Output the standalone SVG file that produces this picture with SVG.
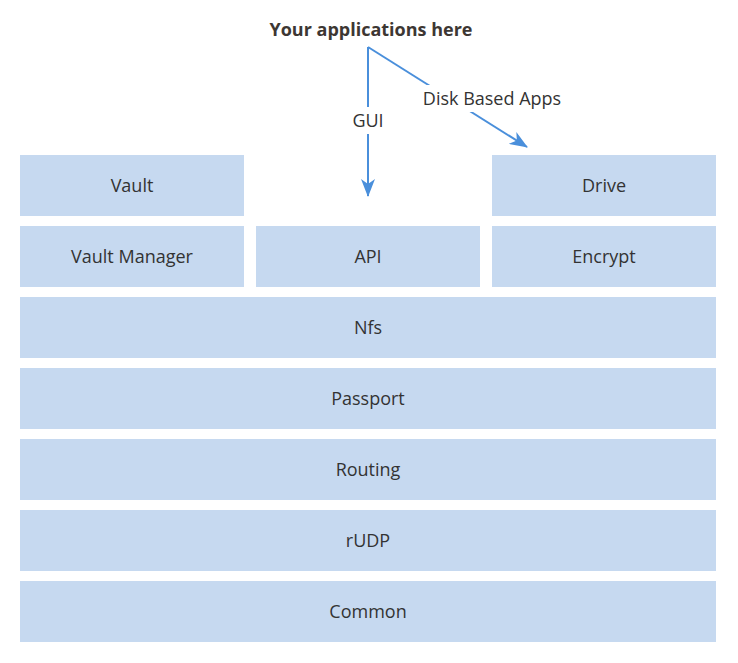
<svg xmlns="http://www.w3.org/2000/svg" width="738" height="663" viewBox="0 0 738 663">
<style>
.box{fill:#c6d9f0;}
.lbl{font-family:"Open Sans","Liberation Sans",sans-serif;font-size:18px;fill:#333333;text-anchor:middle;}
.title{font-family:"Open Sans","Liberation Sans",sans-serif;font-size:18px;font-weight:bold;fill:#3d3733;text-anchor:middle;}
.edge{stroke:#4a8fdb;stroke-width:2;fill:none;}
</style>
<defs>
<marker id="arr" markerWidth="18" markerHeight="14" refX="17" refY="7" orient="auto" markerUnits="userSpaceOnUse">
<path d="M0,0 L18,7 L0,14 L5,7 Z" fill="#4a8fdb"/>
</marker>
</defs>
<rect width="738" height="663" fill="#ffffff"/>
<text class="title" x="371" y="36">Your applications here</text>
<g id="connectors">
<path class="edge" d="M368,47 L368,196" marker-end="url(#arr)"/>
<path class="edge" d="M368,47 L527,147" marker-end="url(#arr)"/>
<rect x="350" y="107" width="36" height="27" fill="#ffffff"/>
<text class="lbl" x="368" y="127">GUI</text>
<rect x="421" y="85" width="143" height="27" fill="#ffffff"/>
<text class="lbl" x="492" y="105">Disk Based Apps</text>
</g>
<g id="vault"><rect class="box" x="20" y="155" width="224" height="61"/><text class="lbl" x="132" y="191.5">Vault</text></g>
<g id="drive"><rect class="box" x="492" y="155" width="224" height="61"/><text class="lbl" x="604" y="191.5">Drive</text></g>
<g id="vaultmanager"><rect class="box" x="20" y="226" width="224" height="61"/><text class="lbl" x="132" y="262.5">Vault Manager</text></g>
<g id="api"><rect class="box" x="256" y="226" width="224" height="61"/><text class="lbl" x="368" y="262.5">API</text></g>
<g id="encrypt"><rect class="box" x="492" y="226" width="224" height="61"/><text class="lbl" x="604" y="262.5">Encrypt</text></g>
<g id="nfs"><rect class="box" x="20" y="297" width="696" height="61"/><text class="lbl" x="368" y="333.5">Nfs</text></g>
<g id="passport"><rect class="box" x="20" y="368" width="696" height="61"/><text class="lbl" x="368" y="404.5">Passport</text></g>
<g id="routing"><rect class="box" x="20" y="439" width="696" height="61"/><text class="lbl" x="368" y="475.5">Routing</text></g>
<g id="rudp"><rect class="box" x="20" y="510" width="696" height="61"/><text class="lbl" x="368" y="546.5">rUDP</text></g>
<g id="common"><rect class="box" x="20" y="581" width="696" height="61"/><text class="lbl" x="368" y="617.5">Common</text></g>
</svg>
